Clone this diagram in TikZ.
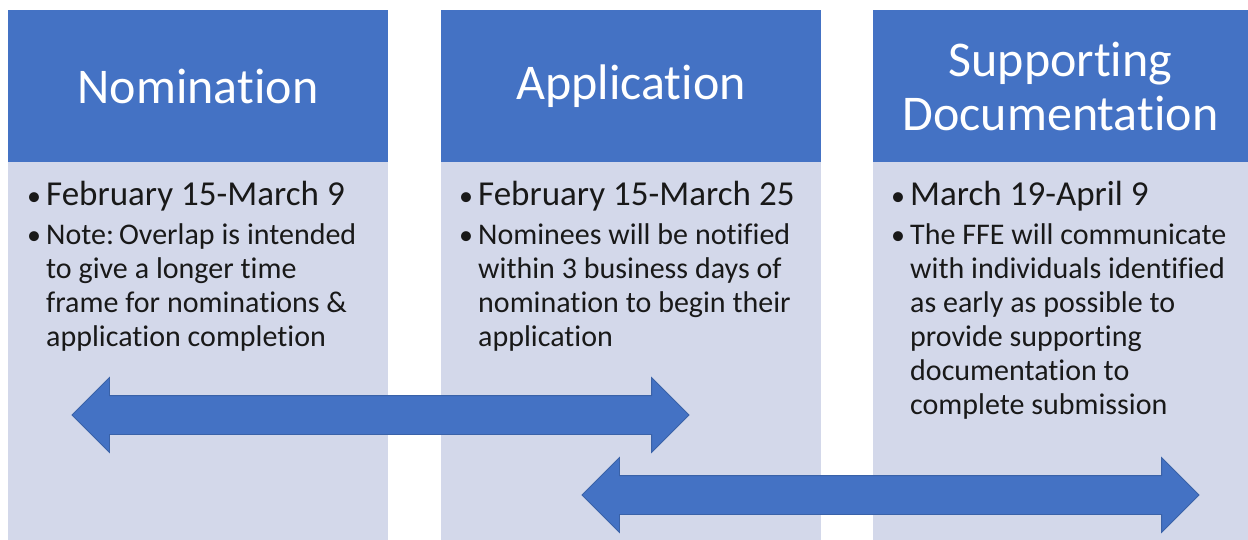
\documentclass[tikz,border=0pt]{standalone}
\usepackage{fontspec}
\setmainfont{Carlito}[Ligatures=NoCommon]
\usepackage{xcolor}
\usetikzlibrary{positioning, shapes.arrows}

\definecolor{hdblue}{HTML}{4472C4}
\definecolor{bodylav}{HTML}{D3D8EA}
\definecolor{arrline}{HTML}{3A62A8}

\newcommand{\datept}[1]{{\fontsize{35}{34}\selectfont\spaceskip=0.23em\noindent\hangindent=19pt\hangafter=1\hbox to 19pt{\fontsize{28}{28}\selectfont\textbullet\hfil}\rule{0pt}{25pt}#1\par}}
\newcommand{\notept}[1]{{\fontsize{30}{34}\selectfont\spaceskip=0.23em\vspace{5pt}\noindent\hangindent=19pt\hangafter=1\hbox to 19pt{\fontsize{28}{28}\selectfont\textbullet\hfil}#1\par}}

\tikzset{
	headbox/.style={fill=hdblue, text=white, minimum height=152pt, inner sep=0pt, outer sep=0pt,
		align=center, font=\fontsize{50}{54}\selectfont},
	bodybox/.style={fill=bodylav, minimum height=378pt, inner sep=0pt, outer sep=0pt},
	listtxt/.style={anchor=north west, text width=360pt, align=left, inner sep=0pt, text=black!90},
	dblarrow/.style={double arrow, fill=hdblue, draw=arrline, line width=0.8pt, inner xsep=0pt,
		inner ysep=19pt, double arrow head extend=18pt, minimum height=617pt}
}

\begin{document}
\begin{tikzpicture}[x=1pt, y=-1pt]
	
	\useasboundingbox (0,0) rectangle (1248,540);
	
	\foreach \n/\x/\w/\t in {nom/8/380/Nomination, app/441/380/Application, sup/873/375/{Supporting\\Documentation}}
	{
		\node[headbox, minimum width=\w pt, anchor=north west] (\n-head) at (\x,10) {\t};
		\node[bodybox, minimum width=\w pt, below=0pt of \n-head] (\n-body) {};
	}
	
	\node[listtxt] (nom-txt) at ([xshift=19pt, yshift=-18pt]nom-body.north west)
		{\datept{February 15-March 9}
		 \notept{Note: Overlap is intended\newline to give a longer time\newline frame for nominations \&\newline application completion}};
	\node[listtxt] (app-txt) at ([xshift=18pt, yshift=-18pt]app-body.north west)
		{\datept{February 15-March 25}
		 \notept{Nominees will be notified\newline within 3 business days of\newline nomination to begin their\newline application}};
	\node[listtxt] (sup-txt) at ([xshift=18pt, yshift=-18pt]sup-body.north west)
		{\datept{March 19-April 9}
		 \notept{The FFE will communicate\newline with individuals identified\newline as early as possible to\newline provide supporting\newline documentation to\newline complete submission}};
	
	% overlap arrows
	\node[dblarrow] (overlap-a) at (380.5,415) {};
	\node[dblarrow] (overlap-b) at (890.5,495) {};
	
\end{tikzpicture}
\end{document}
